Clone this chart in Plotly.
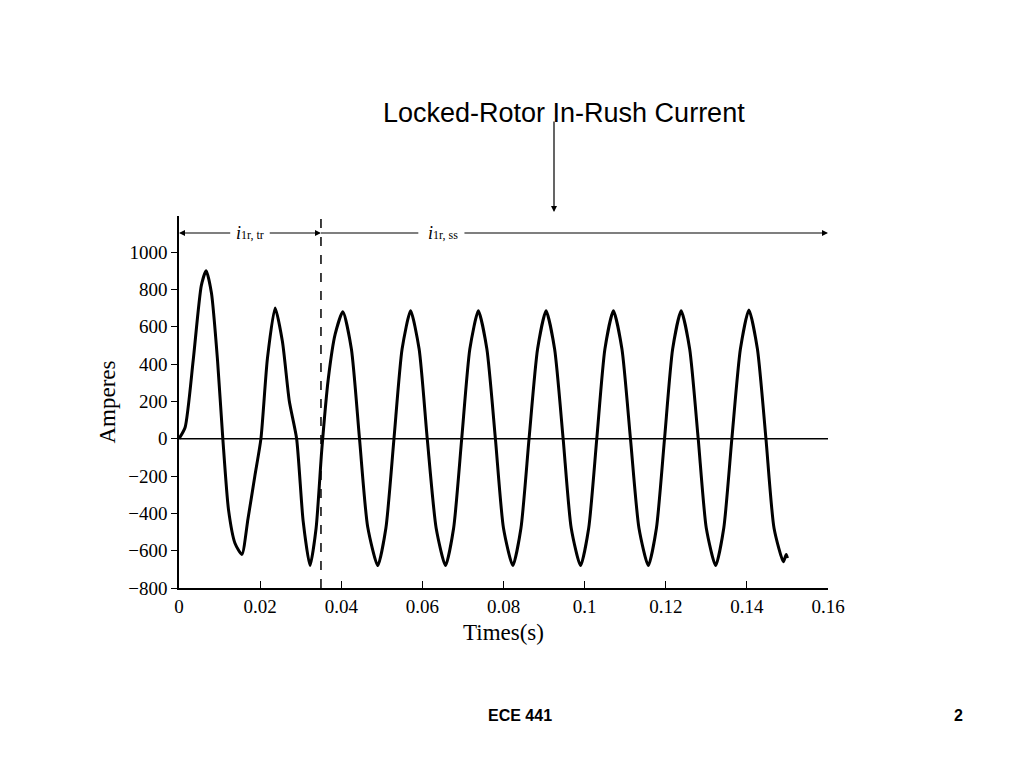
import plotly.graph_objects as go

# time (s) and current (A)
t = [0, 0.0015, 0.0035, 0.0055, 0.0067, 0.0080, 0.0095, 0.0108, 0.0122, 0.0138, 0.0155,
     0.0170, 0.0187, 0.0202, 0.0218, 0.0237, 0.0255, 0.0272, 0.0290, 0.0306, 0.0323,
     0.0338, 0.0352, 0.0368, 0.0385, 0.0404, 0.0425, 0.0445, 0.0465, 0.0490,
     0.0510, 0.0530, 0.0550, 0.0571, 0.0592, 0.0612, 0.0634, 0.0657,
     0.0677, 0.0697, 0.0717, 0.0738, 0.0759, 0.0780, 0.0800, 0.0823,
     0.0843, 0.0863, 0.0884, 0.0905, 0.0926, 0.0947, 0.0967, 0.0990,
     0.1010, 0.1030, 0.1050, 0.1071, 0.1092, 0.1113, 0.1134, 0.1157,
     0.1177, 0.1197, 0.1217, 0.1238, 0.1259, 0.1280, 0.1300, 0.1323,
     0.1343, 0.1363, 0.1384, 0.1405, 0.1426, 0.1447, 0.1467, 0.1490, 0.1497, 0.1500]
amps = [0, 60, 420, 820, 900, 780, 420, 0, -380, -560, -620,
        -430, -200, 0, 430, 700, 520, 200, 0, -440, -680,
        -480, -60, 320, 560, 680, 480, 0, -470, -680,
        -480, 0, 480, 685, 480, 0, -480, -680,
        -480, 0, 480, 685, 480, 0, -480, -680,
        -480, 0, 480, 685, 480, 0, -480, -680,
        -480, 0, 480, 685, 480, 0, -480, -680,
        -480, 0, 480, 685, 480, 0, -480, -680,
        -480, 0, 480, 690, 480, 0, -480, -660, -620, -640]

fig = go.Figure()
fig.add_trace(go.Scatter(x=t, y=amps, mode="lines",
                         line=dict(color="black", width=3, shape="spline", smoothing=0.6),
                         showlegend=False))
fig.add_shape(type="line", x0=0, x1=0.16, y0=0, y1=0, line=dict(color="black", width=1.5))
fig.add_shape(type="line", x0=0.035, x1=0.035, y0=-800, y1=1193,
              line=dict(color="black", width=1.5, dash="dash"))

ya = 1102
def arrow(x_head, x_tail):
    fig.add_annotation(x=x_head, y=ya, ax=x_tail, ay=ya, xref="x", yref="y", axref="x", ayref="y",
                       text="", showarrow=True, arrowhead=2, arrowsize=1, arrowwidth=1.2, arrowcolor="black")
arrow(0, 0.013)
arrow(0.035, 0.022)
arrow(0.16, 0.070)
fig.add_shape(type="line", x0=0.035, x1=0.059, y0=ya, y1=ya, line=dict(color="black", width=1.2))
fig.add_annotation(x=0.0175, y=ya, text="<i>i</i><span style='font-size:12px'>1r, tr</span>",
                   showarrow=False, font=dict(family="Liberation Serif", size=18, color="black"), bgcolor="white")
fig.add_annotation(x=0.0650, y=ya, text="<i>i</i><span style='font-size:12px'>1r, ss</span>",
                   showarrow=False, font=dict(family="Liberation Serif", size=18, color="black"), bgcolor="white")

def px(xp, yp):
    return (xp - 171) / 649, (580 - yp) / 372

x, y = px(556, 88)
fig.add_annotation(xref="paper", yref="paper", x=x, y=y, text="Locked-Rotor In-Rush Current",
                   showarrow=False, font=dict(family="Liberation Sans", size=27, color="black"))
x, y = px(546, 204)
fig.add_annotation(xref="paper", yref="paper", x=x, y=y, ax=0, ay=-92,
                   text="", showarrow=True, arrowhead=2, arrowwidth=1.2, arrowcolor="black")
x, y = px(512, 718)
fig.add_annotation(xref="paper", yref="paper", x=x, y=y, text="<b>ECE 441</b>",
                   showarrow=False, font=dict(family="Liberation Sans", size=16, color="black"))
x, y = px(957, 718)
fig.add_annotation(xref="paper", yref="paper", x=x, y=y, text="<b>2</b>",
                   showarrow=False, font=dict(family="Liberation Sans", size=16, color="black"))

fig.update_layout(width=1024, height=768, margin=dict(l=171, r=204, t=208, b=188),
                  plot_bgcolor="white", paper_bgcolor="white",
                  font=dict(family="Liberation Serif", size=19, color="black"))
fig.update_xaxes(range=[0, 0.16], tickvals=[0, 0.02, 0.04, 0.06, 0.08, 0.1, 0.12, 0.14, 0.16],
                 ticktext=["0", "0.02", "0.04", "0.06", "0.08", "0.1", "0.12", "0.14", "0.16"],
                 showline=True, linecolor="black", linewidth=1.5, ticks="inside", ticklen=7,
                 tickcolor="black", showgrid=False, zeroline=False, title=dict(text="Times(s)", standoff=8))
fig.update_yaxes(range=[-800, 1193], tickvals=list(range(-800, 1001, 200)),
                 showline=True, linecolor="black", linewidth=1.5, ticks="outside", ticklen=6,
                 tickcolor="black", showgrid=False, zeroline=False, title=dict(text="Amperes", standoff=6))
fig.write_html("out.html")
